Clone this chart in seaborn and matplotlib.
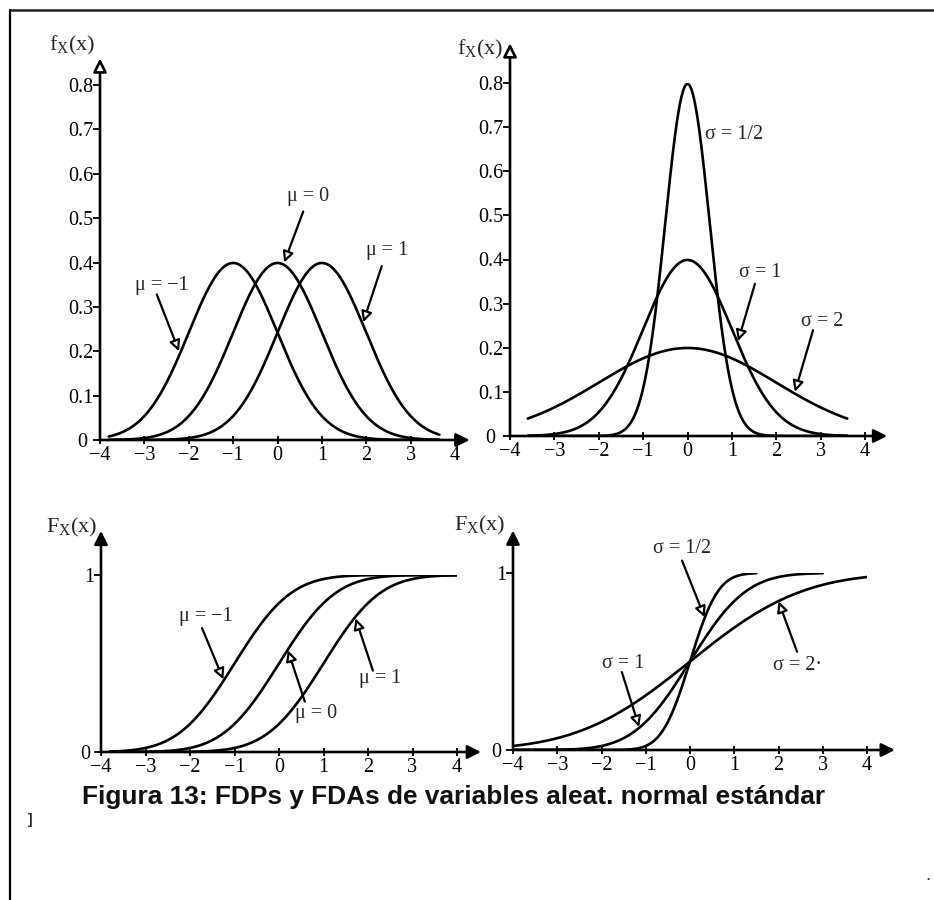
import math
import numpy as np
import pandas as pd
import matplotlib
matplotlib.use("Agg")
import matplotlib.pyplot as plt
import seaborn as sns
from matplotlib import font_manager
from matplotlib.lines import Line2D
from matplotlib.transforms import ScaledTranslation

# ---- parameters of the plotted distributions ----
mu_values = [-1, 0, 1]
mu_labels = ["μ = −1", "μ = 0", "μ = 1"]
sigma_values = [0.5, 1, 2]
sigma_pdf_labels = ["σ = 1/2", "σ = 1", "σ = 2"]
sigma_cdf_labels = ["σ = 1/2", "σ = 1", "σ = 2·"]

# plotted x-ranges of each curve
mu_pdf_range = [(-3.8, 3.65), (-3.8, 3.65), (-3.8, 3.65)]
sigma_pdf_range = [(-3.6, 3.6), (-3.6, 3.6), (-3.6, 3.6)]
mu_cdf_range = [(-3.8, 4.3), (-3.8, 4.3), (-3.8, 4.3)]
sigma_cdf_range = [(-4.0, 1.5), (-4.0, 3.0), (-4.0, 4.3)]

x_ticks = [-4, -3, -2, -1, 0, 1, 2, 3, 4]
x_tick_labels = ["−4", "−3", "−2", "−1", "0", "1", "2", "3", "4"]
pdf_y_ticks = [0, 0.1, 0.2, 0.3, 0.4, 0.5, 0.6, 0.7, 0.8]
pdf_y_tick_labels = ["0", "0.1", "0.2", "0.3", "0.4", "0.5", "0.6", "0.7", "0.8"]
cdf_y_ticks = [0, 1]
cdf_y_tick_labels = ["0", "1"]

caption = "Figura 13: FDPs y FDAs de variables aleat. normal estándar"

sns.set_theme(style="white")
plt.rcParams["font.family"] = ["Liberation Serif", "DejaVu Serif"]
plt.rcParams["mathtext.fontset"] = "custom"
plt.rcParams["mathtext.rm"] = "Liberation Serif"
plt.rcParams["mathtext.it"] = "Liberation Serif:italic"

W, H = 934, 900
fig = plt.figure(figsize=(W / 100, H / 100), dpi=100)
fig.patch.set_facecolor("white")

LW = 1.9
TXT = 14.5
LBL = 16


def normal_pdf(x, mu, s):
    return np.exp(-0.5 * ((x - mu) / s) ** 2) / (s * math.sqrt(2 * math.pi))


def normal_cdf(x, mu, s):
    return 0.5 * (1 + np.vectorize(math.erf)((x - mu) / (s * math.sqrt(2))))


def panel(left, right, y0, ytop, ymax, yticks, ylabels, zero_shift):
    ax = fig.add_axes([left / W, 1 - y0 / H, (right - left) / W, (y0 - ytop) / H])
    ax.set_xlim(-4, 4)
    ax.set_ylim(0, ymax)
    ax.patch.set_alpha(0)
    for s in ax.spines.values():
        s.set_visible(False)
    ax.set_xticks(x_ticks)
    ax.set_xticklabels(x_tick_labels)
    ax.set_yticks(yticks)
    ax.set_yticklabels(ylabels)
    ax.tick_params(axis="x", direction="inout", length=6, width=1.3, pad=1.5,
                   labelsize=TXT, colors="black", bottom=True)
    ax.tick_params(axis="y", direction="out", length=5, width=1.3, pad=0,
                   labelsize=TXT, colors="black", left=True)
    # the "0" at the origin sits a little further left than the other labels
    lab = ax.yaxis.get_major_ticks()[0].label1
    lab.set_transform(lab.get_transform()
                      + ScaledTranslation(-zero_shift / 100, 0, fig.dpi_scale_trans))
    return ax


def axis_arrows(ax, xtip, ytip, open_head):
    ax.annotate("", xy=(xtip, 0), xytext=(-4, 0), annotation_clip=False,
                arrowprops=dict(arrowstyle="-|>", lw=LW, color="black",
                                mutation_scale=20, shrinkA=0, shrinkB=0))
    ax.annotate("", xy=(-4, ytip), xytext=(-4, 0), annotation_clip=False,
                arrowprops=dict(arrowstyle="-|>", lw=LW, ec="black",
                                fc="white" if open_head else "black",
                                mutation_scale=20, shrinkA=0, shrinkB=0))


def pointer(ax, label, text_xy, start, tip, ha="center"):
    ax.text(*text_xy, label, ha=ha, va="center", fontsize=TXT)
    if start is not None:
        ax.annotate("", xy=tip, xytext=start, annotation_clip=False,
                    arrowprops=dict(arrowstyle="-|>", lw=1.6, ec="black",
                                    fc="white", mutation_scale=16,
                                    shrinkA=0, shrinkB=0))


def axis_title(ax, text, x_off, y):
    ax.text(-4.0 - x_off, y, text, ha="right", va="center", fontsize=LBL)


def draw_curves(ax, func, params, ranges):
    rows = []
    for k, ((p_mu, p_s), (a, b)) in enumerate(zip(params, ranges)):
        xs = np.linspace(a, b, 400)
        rows.append(pd.DataFrame({"x": xs, "y": func(xs, p_mu, p_s), "curve": k}))
    df = pd.concat(rows, ignore_index=True)
    sns.lineplot(data=df, x="x", y="y", units="curve", estimator=None,
                 color="black", linewidth=LW, sort=False, ax=ax, legend=False)
    ax.set_xlabel("")
    ax.set_ylabel("")


fx = r"$\mathrm{f}_{\mathrm{X}}\mathrm{(x)}$"
Fx = r"$\mathrm{F}_{\mathrm{X}}\mathrm{(x)}$"

# ---- top left: densities with different means ----
ax1 = panel(100, 455, 440, 85, 0.8, pdf_y_ticks, pdf_y_tick_labels, 6)
draw_curves(ax1, normal_pdf, [(m, 1) for m in mu_values], mu_pdf_range)
axis_arrows(ax1, 4.33, 0.86, True)
pointer(ax1, mu_labels[0], (-2.60, 0.349), (-2.72, 0.328), (-2.22, 0.200))
pointer(ax1, mu_labels[1], (0.69, 0.548), (0.58, 0.515), (0.15, 0.400))
pointer(ax1, mu_labels[2], (2.47, 0.428), (2.35, 0.392), (1.93, 0.265))
axis_title(ax1, fx, 0.10, 0.89)

# ---- top right: densities with different deviations ----
ax2 = panel(510, 865, 436, 83, 0.8, pdf_y_ticks, pdf_y_tick_labels, 8)
draw_curves(ax2, normal_pdf, [(0, s) for s in sigma_values], sigma_pdf_range)
axis_arrows(ax2, 4.5, 0.89, True)
pointer(ax2, sigma_pdf_labels[0], (0.40, 0.684), None, None, ha="left")
pointer(ax2, sigma_pdf_labels[1], (1.63, 0.370), (1.52, 0.345), (1.14, 0.215))
pointer(ax2, sigma_pdf_labels[2], (3.03, 0.260), (2.83, 0.240), (2.42, 0.100))
axis_title(ax2, fx, 0.15, 0.877)

# ---- bottom left: distribution functions with different means ----
ax3 = panel(101, 457, 752, 575, 1.0, cdf_y_ticks, cdf_y_tick_labels, 4)
draw_curves(ax3, normal_cdf, [(m, 1) for m in mu_values], mu_cdf_range)
axis_arrows(ax3, 4.54, 1.25, False)
pointer(ax3, mu_labels[0], (-1.64, 0.763), (-1.73, 0.700), (-1.25, 0.410))
pointer(ax3, mu_labels[1], (0.83, 0.215), (0.58, 0.285), (0.20, 0.575))
pointer(ax3, mu_labels[2], (2.27, 0.418), (2.11, 0.460), (1.72, 0.755))
axis_title(ax3, Fx, 0.08, 1.27)

# ---- bottom right: distribution functions with different deviations ----
ax4 = panel(513, 867, 750, 573, 1.0, cdf_y_ticks, cdf_y_tick_labels, 5)
draw_curves(ax4, normal_cdf, [(0, s) for s in sigma_values], sigma_cdf_range)
axis_arrows(ax4, 4.63, 1.24, False)
pointer(ax4, sigma_cdf_labels[0], (-0.18, 1.140), (-0.18, 1.070), (0.33, 0.750))
pointer(ax4, sigma_cdf_labels[1], (-1.51, 0.490), (-1.54, 0.440), (-1.15, 0.130))
pointer(ax4, sigma_cdf_labels[2], (2.44, 0.480), (2.42, 0.555), (2.00, 0.840))
axis_title(ax4, Fx, 0.18, 1.27)

# ---- page frame ----
fig.add_artist(Line2D([10 / W, 10 / W], [0, 1 - 10 / H], color="black", lw=1.6))
fig.add_artist(Line2D([10 / W, 1], [1 - 10 / H, 1 - 10 / H], color="#222222", lw=1.8))

# ---- caption ----
cap_font = "Liberation Sans"
try:
    font_manager.findfont(font_manager.FontProperties(family="Liberation Sans Narrow"),
                          fallback_to_default=False)
    cap_font = "Liberation Sans Narrow"
except Exception:
    pass
cap = fig.text(82 / W, 1 - 797 / H, caption, ha="left", va="center",
               fontsize=16, fontweight="bold", family=[cap_font, "DejaVu Sans"],
               color="#111111")
fig.canvas.draw()
bb = cap.get_window_extent()
cap.set_fontsize(16 * 741 / bb.width)

fig.text(30 / W, 1 - 820 / H, "]", ha="center", va="center", fontsize=10,
         fontweight="bold", family=["Liberation Sans", "DejaVu Sans"])
fig.text(928 / W, 1 - 880 / H, "•", ha="center", va="center", fontsize=6)

fig.savefig("out.png", dpi=100, facecolor="white")
